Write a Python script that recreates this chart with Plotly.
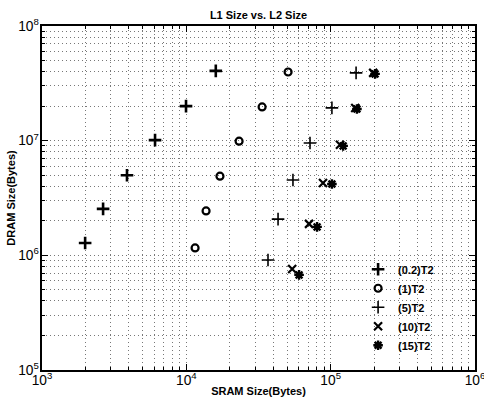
import plotly.graph_objects as go

# SRAM size (bytes) and DRAM size (bytes) for each series
sram_02 = [1990, 2650, 3880, 6070, 9950, 16000]
dram_02 = [1.28e6, 2.54e6, 5.0e6, 1.01e7, 2.0e7, 4.06e7]
sram_1 = [11500, 13700, 17100, 23200, 33500, 50700]
dram_1 = [1.16e6, 2.44e6, 4.9e6, 9.9e6, 1.97e7, 3.97e7]
sram_5 = [36800, 43200, 54800, 71900, 102000, 150000]
dram_5 = [9.1e5, 2.07e6, 4.54e6, 9.55e6, 1.93e7, 3.9e7]
sram_10 = [54100, 70800, 88500, 116000, 148000, 197000]
dram_10 = [7.6e5, 1.88e6, 4.28e6, 9.2e6, 1.93e7, 3.9e7]
sram_15 = [60400, 80500, 102000, 122000, 152000, 203000]
dram_15 = [6.75e5, 1.77e6, 4.19e6, 9.0e6, 1.89e7, 3.82e7]

series_names = ["(0.2)T2", "(1)T2", "(5)T2", "(10)T2", "(15)T2"]

FONT = "Liberation Sans, Arial, sans-serif"

fig = go.Figure()
specs = [
    (sram_02, dram_02, "cross-thin", 9, 2.6),
    (sram_1, dram_1, "circle-open", 7, 2.2),
    (sram_5, dram_5, "cross-thin", 9, 1.6),
    (sram_10, dram_10, "x-thin", 8, 2.2),
    (sram_15, dram_15, "asterisk-open", 8, 2.4),
]
for (xs, ys, sym, sz, lw), name in zip(specs, series_names):
    fig.add_trace(go.Scatter(
        x=xs, y=ys, mode="markers", name="<b>" + name + "</b>",
        marker=dict(symbol=sym, size=sz, color="black",
                    line=dict(color="black", width=lw)),
    ))

grid = dict(showgrid=True, gridcolor="#777", griddash="1px,3px", gridwidth=1)

axis_common = dict(
    type="log", dtick=1, exponentformat="power", showexponent="all",
    showline=True, linecolor="black", linewidth=2, mirror="ticks",
    ticks="inside", ticklen=6, tickcolor="black",
    tickfont=dict(family=FONT, size=11, color="black"),
    zeroline=False, automargin=False, ticklabeloverflow="allow",
    minor=dict(dtick="D1", ticks="inside", ticklen=3, tickcolor="black", **grid),
    **grid,
)

fig.update_xaxes(range=[3, 6], ticklabelstandoff=-3,
                 title=dict(text="<b>SRAM Size(Bytes)</b>", standoff=0,
                            font=dict(family=FONT, size=11, color="black")), **axis_common)
fig.update_yaxes(range=[5, 8], ticklabelstandoff=-1,
                 title=dict(text="<b>DRAM Size(Bytes)</b>", standoff=0,
                            font=dict(family=FONT, size=11, color="black")), **axis_common)

fig.update_layout(
    width=484, height=404,
    margin=dict(l=42, r=9, t=26, b=34),
    paper_bgcolor="white", plot_bgcolor="white",
    title=dict(text="<b>L1 Size vs. L2 Size</b>", x=(42 + 475) / 2 / 484, xanchor="center",
               y=1 - 15 / 404, yanchor="middle",
               font=dict(family=FONT, size=11, color="black")),
    legend=dict(x=0.73, y=0.335, xanchor="left", yanchor="top",
                bgcolor="rgba(0,0,0,0)", borderwidth=0,
                font=dict(family=FONT, size=11, color="black"),
                itemwidth=30, tracegroupgap=0),
    font=dict(family=FONT, color="black"),
)

fig.write_html("out.html")
